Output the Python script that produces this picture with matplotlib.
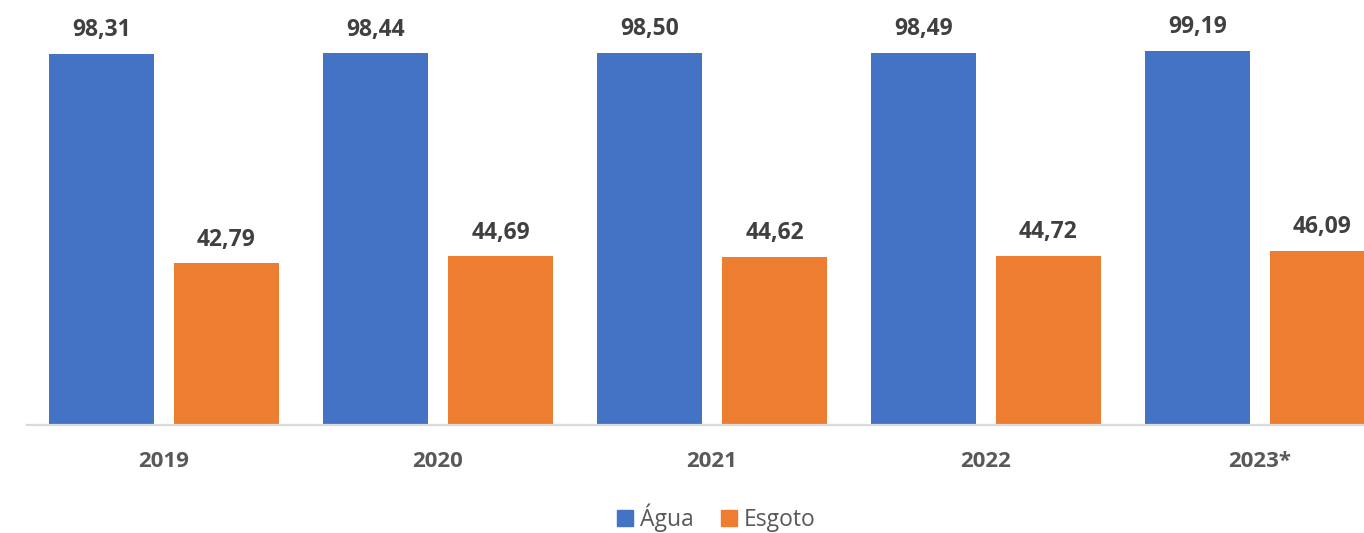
import matplotlib

matplotlib.use("Agg")
import matplotlib.pyplot as plt
import numpy as np
from matplotlib.patches import Patch

# Índices de atendimento (%) por ano
anos = ["2019", "2020", "2021", "2022", "2023*"]
agua = [98.31, 98.44, 98.50, 98.49, 99.19]
esgoto = [42.79, 44.69, 44.62, 44.72, 46.09]

COR_AGUA = "#4472C4"
COR_ESGOTO = "#ED7D31"

plt.rcParams["font.family"] = ["Open Sans", "DejaVu Sans"]

fig = plt.figure(figsize=(13.64, 5.33), dpi=100)
ax = fig.add_axes([27 / 1364, 108 / 533, 1 - 27 / 1364, 425 / 533])

x = np.arange(len(anos))
largura = 0.38
desloc = 0.228

barras_agua = ax.bar(x - desloc, agua, largura, color=COR_AGUA)
barras_esgoto = ax.bar(x + desloc, esgoto, largura, color=COR_ESGOTO)


def fmt(v):
    return f"{v:.2f}".replace(".", ",")


for barras, valores in ((barras_agua, agua), (barras_esgoto, esgoto)):
    for b, v in zip(barras, valores):
        ax.annotate(fmt(v), (b.get_x() + b.get_width() / 2, v),
                    xytext=(0, 8.5), textcoords="offset points",
                    ha="center", va="bottom", fontsize=16.5,
                    fontweight="bold", color="#404040")

ax.set_xlim(-0.5, -0.5 + 1337 / 274)
ax.set_ylim(0, 112.6)
ax.set_xticks(x)
ax.set_xticklabels(anos, fontsize=16, fontweight="bold", color="#595959")
ax.tick_params(axis="x", length=0, pad=19)
ax.set_yticks([])
for lado in ("left", "right", "top"):
    ax.spines[lado].set_visible(False)
ax.spines["bottom"].set_color("#D9D9D9")
ax.spines["bottom"].set_linewidth(1.6)

handles = [Patch(color=COR_AGUA, label="Água"),
           Patch(color=COR_ESGOTO, label="Esgoto")]
fig.legend(handles=handles, loc="center", bbox_to_anchor=(716 / 1364, 1 - 518 / 533),
           ncol=2, frameon=False, fontsize=16.5, labelcolor="#595959",
           handlelength=0.7, handleheight=0.7, handletextpad=0.3,
           columnspacing=1.2)

fig.savefig("out.png", dpi=100)
plt.close(fig)
